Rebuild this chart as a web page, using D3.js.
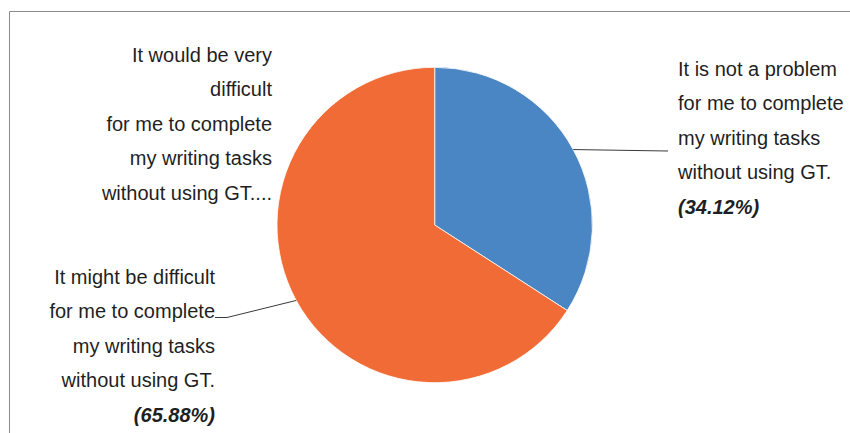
<!DOCTYPE html>
<html>
<head>
<meta charset="utf-8">
<script src="https://cdn.jsdelivr.net/npm/d3@7"></script>
<style>
  html, body { margin: 0; padding: 0; background: #fff; }
  svg text { font-family: "Liberation Sans", Arial, sans-serif; font-size: 20px; fill: #1f1f1f; }
</style>
</head>
<body>
<div id="chart"></div>
<script>
// survey answers, clockwise from 12 o'clock
const categories = [
  "It is not a problem for me to complete my writing tasks without using GT.",
  "It might be difficult for me to complete my writing tasks without using GT.",
  "It would be very difficult for me to complete my writing tasks without using GT...."
];
const values = [34.12, 65.88, 0];
const labelLines = [
  ["It is not a problem", "for me to complete", "my writing tasks", "without using GT."],
  ["It might be difficult", "for me to complete", "my writing tasks", "without using GT."],
  ["It would be very", "difficult", "for me to complete", "my writing tasks", "without using GT...."]
];
const showPercent = [true, true, false];
const colors = ["#4a86c4", "#f06b36", "#a5a5a5"];

const [width, height] = [850, 433];
const cx = 434.7, cy = 225, radius = 157.7;
const lineStep = 34.6;

// where each label block sits and where its leader line ends
const labelLayout = [
  { x: 678, y: 75.5, anchor: "start", leader: [[668, 151]] },
  { x: 215, y: 283.5, anchor: "end", leader: [[227, 317.5], [215, 317.5]] },
  { x: 272, y: 61.5, anchor: "end", leader: null }
];

const svg = d3.select("#chart").append("svg").attr("width", width).attr("height", height);

// chart frame (only left and top edges are visible in the crop)
svg.append("path")
  .attr("d", `M9.5,${height} L9.5,11.5 L${width},11.5`)
  .attr("fill", "none")
  .attr("stroke", "#8c8c8c")
  .attr("stroke-width", 1);

const data = categories.map((c, i) => ({ name: c, value: values[i], i: i }));
const pie = d3.pie().sort(null).value(d => d.value).startAngle(0).endAngle(2 * Math.PI);
const arcs = pie(data);
const arc = d3.arc().innerRadius(0).outerRadius(radius);

const g = svg.append("g").attr("transform", `translate(${cx},${cy})`);
g.selectAll("path.slice").data(arcs.filter(d => d.value > 0)).enter()
  .append("path")
  .attr("class", "slice")
  .attr("d", arc)
  .attr("fill", d => colors[d.data.i])
  .attr("stroke", "#fff")
  .attr("stroke-width", 0.8);

// leader lines from the arc edge at the mid angle
const edge = d => {
  const a = (d.startAngle + d.endAngle) / 2;
  return [cx + radius * Math.sin(a), cy - radius * Math.cos(a)];
};
arcs.forEach(d => {
  const lay = labelLayout[d.data.i];
  if (!lay.leader || d.value <= 0) return;
  const pts = [edge(d)].concat(lay.leader);
  svg.append("path")
    .attr("d", d3.line()(pts))
    .attr("fill", "none")
    .attr("stroke", "#3a3a3a")
    .attr("stroke-width", 1);
});

// labels
arcs.forEach(d => {
  const i = d.data.i;
  const lay = labelLayout[i];
  const t = svg.append("text").attr("text-anchor", lay.anchor);
  const lines = labelLines[i].slice();
  lines.forEach((ln, k) => {
    t.append("tspan").attr("x", lay.x).attr("y", lay.y + k * lineStep).text(ln);
  });
  if (showPercent[i]) {
    t.append("tspan")
      .attr("x", lay.x)
      .attr("y", lay.y + lines.length * lineStep)
      .attr("font-weight", "bold")
      .attr("font-style", "italic")
      .text(`(${d.value.toFixed(2)}%)`);
  }
});
</script>
</body>
</html>
